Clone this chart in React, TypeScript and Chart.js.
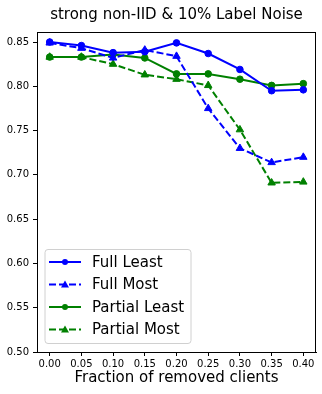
import React, { useEffect, useRef } from "react";
import { Chart, registerables } from "chart.js";

Chart.register(...registerables);

const fractions = [0.0, 0.05, 0.1, 0.15, 0.2, 0.25, 0.3, 0.35, 0.4];
const fullLeast = [0.85, 0.846, 0.838, 0.839, 0.849, 0.837, 0.819, 0.795, 0.796];
const fullMost = [0.849, 0.843, 0.832, 0.841, 0.834, 0.775, 0.73, 0.714, 0.72];
const partialLeast = [0.833, 0.833, 0.836, 0.832, 0.814, 0.814, 0.808, 0.801, 0.803];
const partialMost = [0.833, 0.833, 0.825, 0.813, 0.808, 0.801, 0.751, 0.691, 0.692];
const xTicks = [0.0, 0.05, 0.1, 0.15, 0.2, 0.25, 0.3, 0.35, 0.4];
const yTicks = [0.5, 0.55, 0.6, 0.65, 0.7, 0.75, 0.8, 0.85];
const seriesNames = ["Full Least", "Full Most", "Partial Least", "Partial Most"];
const titleText = "strong non-IID & 10% Label Noise";
const xLabel = "Fraction of removed clients";

const BLUE = "#0000ff";
const GREEN = "#008000";
const FONT = "'DejaVu Sans', sans-serif";

export default function App() {
  const ref = useRef<HTMLCanvasElement | null>(null);
  useEffect(() => {
    document.body.style.margin = "0";
    const canvas = ref.current!;
    const styles = [
      { color: BLUE, dash: [], point: "circle", r: 3.3 },
      { color: BLUE, dash: [7, 3], point: "triangle", r: 4.3 },
      { color: GREEN, dash: [], point: "circle", r: 3.3 },
      { color: GREEN, dash: [7, 3], point: "triangle", r: 4.3 },
    ];
    const values = [fullLeast, fullMost, partialLeast, partialMost];
    const datasets = values.map((vals, i) => ({
      label: seriesNames[i],
      data: vals.map((v, j) => ({ x: fractions[j], y: v })),
      borderColor: styles[i].color,
      backgroundColor: styles[i].color,
      borderWidth: 2,
      borderDash: styles[i].dash,
      pointStyle: styles[i].point,
      pointRadius: styles[i].r,
      pointBorderWidth: 1,
      tension: 0,
    }));

    const framePlugin = {
      id: "frame",
      afterDraw(chart: any) {
        const { ctx, chartArea: a } = chart;
        ctx.save();
        ctx.strokeStyle = "#000";
        ctx.lineWidth = 1;
        ctx.setLineDash([]);
        ctx.strokeRect(a.left + 0.5, a.top + 0.5, a.right - a.left - 1, a.bottom - a.top);
        // title
        ctx.fillStyle = "#000";
        ctx.font = `15px ${FONT}`;
        ctx.textAlign = "center";
        ctx.textBaseline = "middle";
        ctx.fillText(titleText, (a.left + a.right) / 2, 15);
        // legend
        const bx = 45, by = 249.5, bw = 146, bh = 94, rr = 3;
        ctx.beginPath();
        ctx.moveTo(bx + rr, by);
        ctx.arcTo(bx + bw, by, bx + bw, by + bh, rr);
        ctx.arcTo(bx + bw, by + bh, bx, by + bh, rr);
        ctx.arcTo(bx, by + bh, bx, by, rr);
        ctx.arcTo(bx, by, bx + bw, by, rr);
        ctx.closePath();
        ctx.fillStyle = "rgba(255,255,255,0.8)";
        ctx.fill();
        ctx.strokeStyle = "#d0d0d0";
        ctx.stroke();
        for (let i = 0; i < 4; i++) {
          const y = 262 + i * 22.5;
          const s = styles[i];
          ctx.strokeStyle = s.color;
          ctx.fillStyle = s.color;
          ctx.lineWidth = 2;
          ctx.setLineDash(s.dash);
          ctx.beginPath();
          ctx.moveTo(49, y);
          ctx.lineTo(81, y);
          ctx.stroke();
          ctx.setLineDash([]);
          ctx.beginPath();
          if (s.point === "circle") {
            ctx.arc(65, y, 3, 0, Math.PI * 2);
          } else {
            ctx.moveTo(65, y - 4);
            ctx.lineTo(69, y + 3);
            ctx.lineTo(61, y + 3);
            ctx.closePath();
          }
          ctx.fill();
          ctx.fillStyle = "#000";
          ctx.font = `15px ${FONT}`;
          ctx.textAlign = "left";
          ctx.textBaseline = "middle";
          ctx.fillText(seriesNames[i], 92, y + 1);
        }
        ctx.restore();
      },
    };

    const chart = new Chart(canvas, {
      type: "line",
      data: { datasets: datasets as any },
      options: {
        animation: false,
        responsive: false,
        devicePixelRatio: 1,
        layout: { padding: { top: 32, right: 6, bottom: 7, left: 0 } },
        plugins: { legend: { display: false }, title: { display: false }, tooltip: { enabled: false } },
        scales: {
          x: {
            type: "linear",
            min: -0.02,
            max: 0.42,
            afterBuildTicks: (s: any) => {
              s.ticks = xTicks.map((v) => ({ value: v }));
            },
            afterFit: (s: any) => {
              s.height = 35;
            },
            ticks: {
              callback: (v: any) => Number(v).toFixed(2),
              font: { family: FONT, size: 10 },
              color: "#000",
              padding: 2,
              maxRotation: 0,
              autoSkip: false,
            },
            grid: { drawOnChartArea: false, drawTicks: true, tickLength: 4, tickColor: "#000", color: "#000" },
            border: { color: "#000" },
            title: { display: true, text: xLabel, font: { family: FONT, size: 15 }, color: "#000", padding: 0 },
          },
          y: {
            type: "linear",
            min: 0.5,
            max: 0.8613,
            afterBuildTicks: (s: any) => {
              s.ticks = yTicks.map((v) => ({ value: v }));
            },
            afterFit: (s: any) => {
              s.width = 37;
            },
            ticks: {
              callback: (v: any) => Number(v).toFixed(2),
              font: { family: FONT, size: 10 },
              color: "#000",
              padding: 4,
              autoSkip: false,
            },
            grid: { drawOnChartArea: false, drawTicks: true, tickLength: 4, tickColor: "#000", color: "#000" },
            border: { color: "#000" },
          },
        },
      },
      plugins: [framePlugin],
    } as any);
    return () => chart.destroy();
  }, []);
  return (
    <div style={{ position: "absolute", left: 0, top: 0, width: 322, height: 394, background: "#fff" }}>
      <canvas ref={ref} width={322} height={394} style={{ width: 322, height: 394, display: "block" }} />
    </div>
  );
}
